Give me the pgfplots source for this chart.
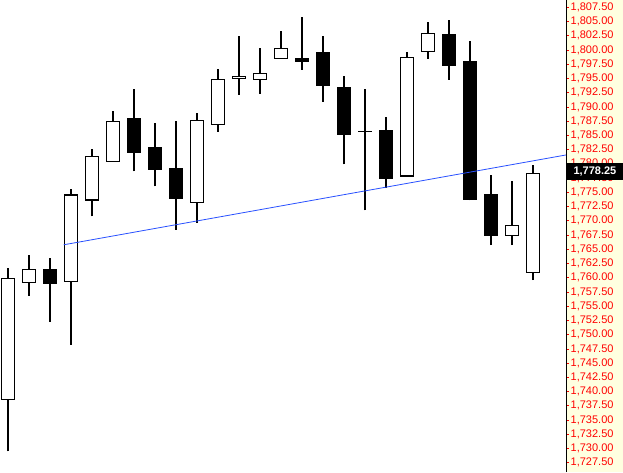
\documentclass[border=0pt]{standalone}
\usepackage{pgfplots}
\pgfplotsset{compat=1.18}
\usepackage{pgfplotstable}
\usepackage{fontspec}
\setmainfont{Liberation Sans}
\usetikzlibrary{backgrounds}

\definecolor{panelbg}{RGB}{255,255,224}
\definecolor{trend}{RGB}{40,80,255}

% x  open  high  low  close
\pgfplotstableread{
x  o        h        l        c
0  1738.65  1761.64  1729.48  1759.83
1  1759.13  1763.91  1756.79  1761.41
2  1761.41  1763.39  1752.23  1759.06
3  1759.31  1775.59  1748.21  1774.54
4  1773.66  1782.64  1770.79  1781.36
5  1780.49  1789.30  1780.49  1787.49
6  1788.02  1793.15  1778.67  1782.00
7  1782.82  1787.19  1776.04  1779.02
8  1779.14  1787.54  1768.46  1773.94
9  1773.24  1788.94  1769.64  1787.67
10 1786.97  1796.65  1785.67  1794.84
11 1795.02  1802.42  1792.15  1795.37
12 1794.84  1800.32  1792.32  1795.90
13 1798.52  1803.30  1798.52  1800.27
14 1798.52  1805.75  1796.52  1797.92
15 1799.57  1802.42  1790.92  1793.72
16 1793.44  1795.37  1779.90  1785.15
17 1785.75  1793.15  1771.84  1785.75
18 1785.92  1788.24  1775.76  1777.51
19 1777.86  1799.57  1777.86  1798.69
20 1799.74  1804.87  1798.45  1802.90
21 1802.77  1805.22  1794.77  1797.22
22 1798.05  1801.55  1773.59  1773.77
23 1774.54  1778.09  1765.71  1767.47
24 1767.36  1777.04  1765.71  1769.11
25 1760.88  1779.84  1759.59  1778.25
}\candles

\begin{document}
\begin{tikzpicture}
\begin{axis}[
    name=ax,
    scale only axis,
    width=566pt, height=472pt,
    xmin=-0.381, xmax=26.571,
    ymin=1725.87, ymax=1808.78,
    axis x line=none,
    axis y line=right,
    axis line style={black, line width=0.8pt, -},
    ytick={1727.5,1730,...,1807.5},
    tick align=outside,
    major tick length=3pt,
    ytick style={red, line width=0.6pt},
    yticklabel style={red, font=\fontsize{11}{12}\selectfont, inner sep=1pt, xshift=0.5pt},
    /pgf/number format/.cd, fixed, fixed zerofill, precision=2, 1000 sep={,}, assume math mode=true,
]
% wicks
\addplot[draw=none, error bars/.cd, y dir=plus, y explicit, error mark=none,
    error bar style={draw=black, line width=1.2pt}]
    table[x=x, y=l, y error expr=\thisrow{h}-\thisrow{l}] {\candles};
% bodies (outer, black)
\addplot[draw=none, error bars/.cd, y dir=both, y explicit, error mark=none,
    error bar style={draw=black, line width=14pt}]
    table[x=x, y expr=(\thisrow{o}+\thisrow{c})/2,
          y error expr=abs(\thisrow{c}-\thisrow{o})/2+0.105] {\candles};
% hollow inside of rising candles
\addplot[draw=none, restrict expr to domain={\thisrow{c}-\thisrow{o}}{0.01:1000},
    error bars/.cd, y dir=both, y explicit, error mark=none,
    error bar style={draw=white, line width=11.6pt}]
    table[x=x, y expr=(\thisrow{o}+\thisrow{c})/2,
          y error expr=(\thisrow{c}-\thisrow{o})/2-0.105] {\candles};
% trend line
\addplot[trend, line width=0.8pt] coordinates {(2.65,1765.78) (26.57,1781.56)};

\coordinate (bl) at (rel axis cs:0,0);
\coordinate (br) at (rel axis cs:1,0);
\coordinate (tr) at (rel axis cs:1,1);
\coordinate (last) at (axis cs:26.571,1778.25);
\end{axis}
\begin{scope}[on background layer]
\fill[panelbg] (br) rectangle ([xshift=57pt]tr);
\end{scope}
\node[fill=black, text=white, anchor=west, minimum width=56.5pt, minimum height=17pt,
      inner sep=0pt, font=\bfseries\fontsize{11}{12}\selectfont]
      at ([xshift=0.5pt, yshift=2.5pt]last) {1,778.25};
\pgfresetboundingbox
\useasboundingbox (bl) rectangle ([xshift=57pt]tr);
\end{tikzpicture}
\end{document}
